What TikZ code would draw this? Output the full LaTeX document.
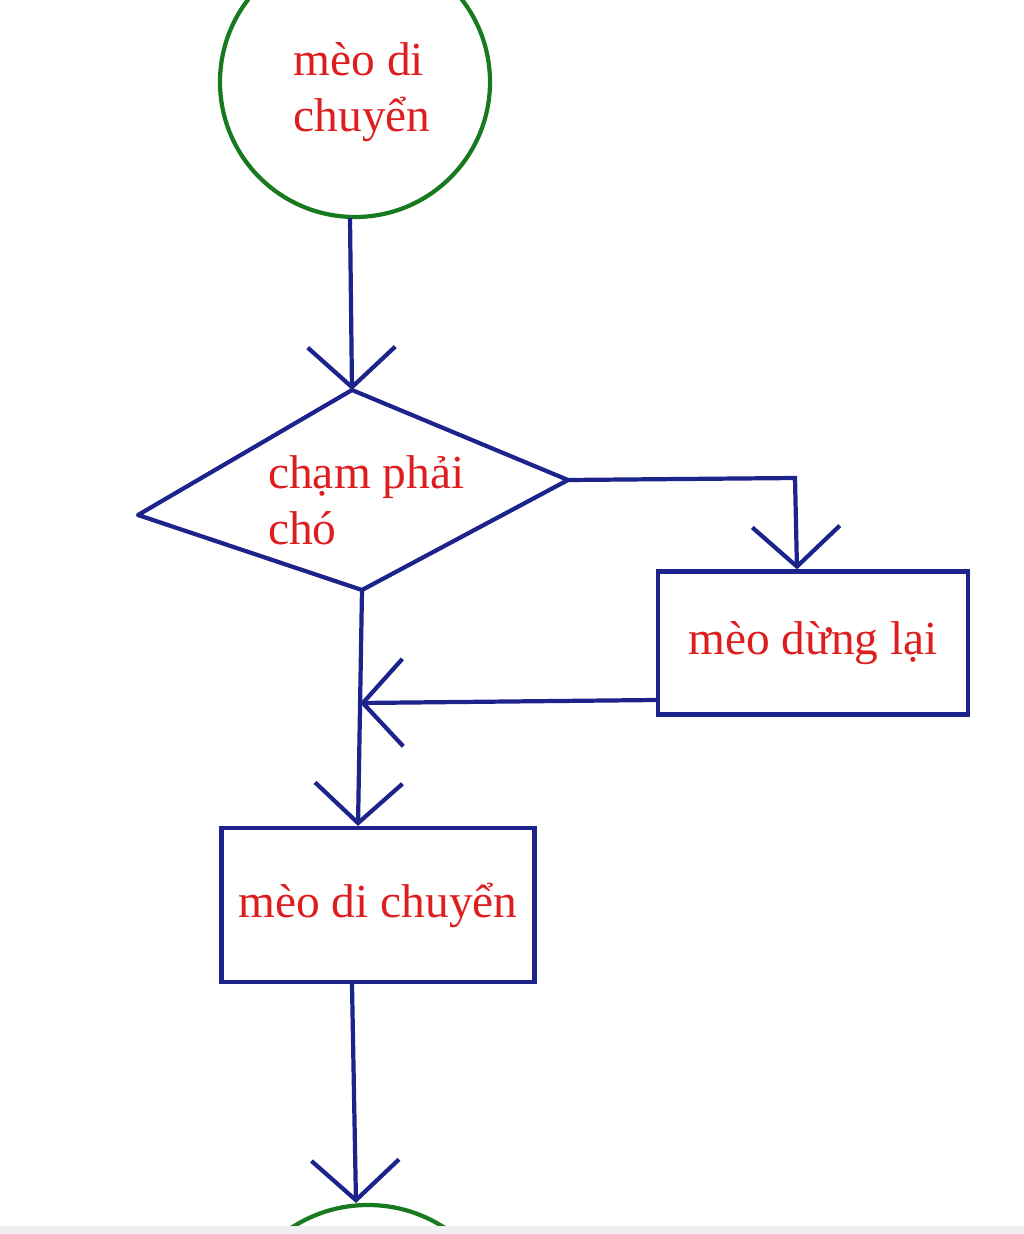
\documentclass[tikz,border=0pt]{standalone}
\usepackage{fontspec}
\setmainfont{Liberation Serif}
\usetikzlibrary{arrows.meta, positioning}
\definecolor{flowblue}{RGB}{28,36,140}
\definecolor{flowgreen}{RGB}{24,122,30}
\definecolor{flowred}{RGB}{222,30,30}
\tikzset{
  flowline/.style={draw=flowblue, line width=2.4pt},
  flowarrow/.style={flowline, -{Straight Barb[length=0.8cm, width=1.75cm, line width=2.4pt]}},
  label/.style={text=flowred, font=\fontsize{27}{32}\selectfont, align=left},
  stepbox/.style={flowline, rectangle, inner sep=0pt},
}
\begin{document}
\begin{tikzpicture}[x=0.02cm, y=-0.02cm]
    \useasboundingbox (0,0) rectangle (1024,1234);
    \clip (0,0) rectangle (1024,1234);
    % Start and end
    \draw [flowgreen, line width=2.4pt] (355,82) circle [radius=135];
    \node [label] (start) at (362,92) {mèo di\\chuyển};
    \coordinate (startS) at (350,218);
    \draw [flowgreen, line width=2.4pt] (368,1345) circle [radius=140];
    \coordinate (endN) at (356,1203);
    % Decision
    \coordinate (dT) at (352,390);
    \coordinate (dR) at (568,480);
    \coordinate (dB) at (362,590);
    \coordinate (dL) at (138,515);
    \draw [flowline, line join=round] (dT) -- (dR) -- (dB) -- (dL) -- cycle;
    \node [label, anchor=west] (check) at (262,500) {chạm phải\\chó};
    % Boxes
    \node [stepbox, minimum width=6.2cm, minimum height=2.86cm] (stop) at (813,643) {};
    \node [label] at (stop.center) {mèo dừng lại};
    \node [stepbox, minimum width=6.26cm, minimum height=3.08cm] (move) at (378,905) {};
    \node [label] at (move.center) {mèo di chuyển};
    \coordinate (merge) at (360,703);
    % Arrows
    \draw [flowarrow] (startS) -- (dT);
    \draw [flowarrow] (dR) -- (795,478) -- (stop.north -| 797,0);
    \draw [flowarrow] (stop.west |- 0,700) -- (merge);
    \draw [flowarrow] (dB) -- (move.north -| 358,0);
    \draw [flowarrow] (move.south -| 352,0) -- (endN);
    % Bottom strip
    \fill [black!6] (0,1226) rectangle (1024,1234);
\end{tikzpicture}
\end{document}
